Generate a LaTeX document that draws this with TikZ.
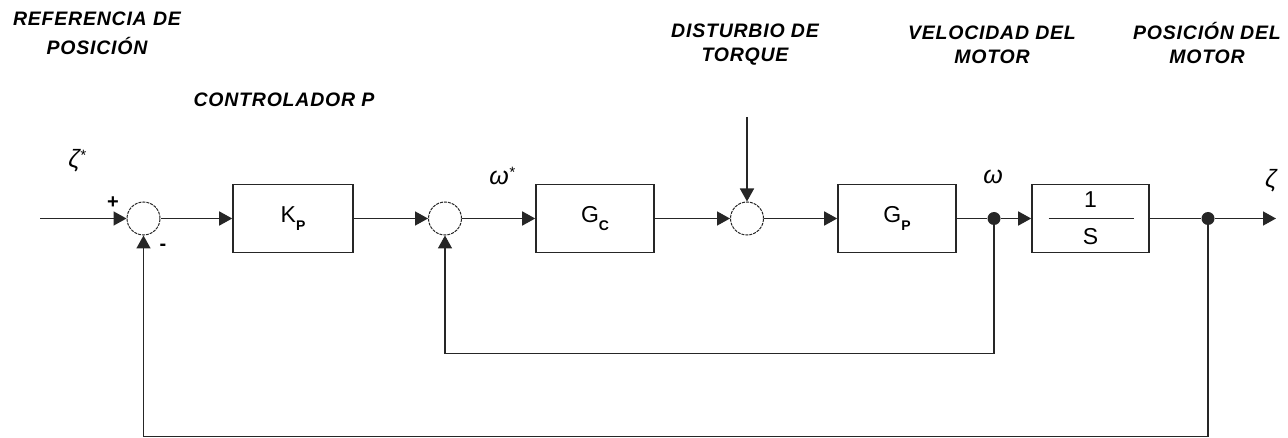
\documentclass[tikz,border=0pt]{standalone}
\usepackage{fontspec}
\setmainfont{Liberation Sans}
\usetikzlibrary{arrows.meta}
\newcommand{\lowidx}[1]{\raisebox{-8pt}{\fontsize{14}{14}\selectfont\bfseries #1}}
\begin{document}
\begin{tikzpicture}[x=1pt, y=-1pt, font=\fontsize{23}{26}\selectfont,
      >={Triangle[length=13pt,width=14pt]}, line width=1.6pt, draw=black!85,
      blk/.style={draw, minimum width=118pt, minimum height=68pt, inner sep=0pt},
      sm/.style={circle, draw, dash pattern=on 3pt off 1pt, line width=1pt, minimum size=33pt, inner sep=0pt},
      dt/.style={circle, fill=black!85, minimum size=13pt, inner sep=0pt},
      ttl/.style={font=\fontsize{19.5}{24}\selectfont\bfseries\itshape\addfontfeature{LetterSpace=4}, align=center},
      gr/.style={font=\fontsize{25}{25}\selectfont\itshape},
      sgn/.style={font=\fontsize{20}{20}\selectfont\bfseries}]
    \useasboundingbox (0,0) rectangle (1288,438);
    \node[sm] (s1) at (143.5,218.5) {};
    \node[blk, minimum width=120pt] (kp) at (293,218.5) {K\lowidx{P}};
    \node[sm] (s2) at (445,218.5) {};
    \node[blk] (gc) at (595,218.5) {G\lowidx{C}};
    \node[sm] (s3) at (747,218.5) {};
    \node[blk] (gp) at (897,218.5) {G\lowidx{P}};
    \node[dt] (d1) at (994,218.5) {};
    \node[blk, minimum width=117pt] (ig) at (1090.5,218.5) {};
    \node (num) at (1090.5,200) {1};
    \node (den) at (1090.5,237) {S};
    \node[dt] (d2) at (1208,218.5) {};
    \coordinate (in) at (40,218.5);
    \coordinate (out) at (1276,218.5);
    \coordinate (tq) at (747,117);
    \draw ([xshift=-42pt]ig.center) -- ([xshift=43pt]ig.center);
    \draw[->] (in) -- (s1);
    \draw[->] (s1) -- (kp);
    \draw[->] (kp) -- (s2);
    \draw[->] (s2) -- (gc);
    \draw[->] (gc) -- (s3);
    \draw[->] (s3) -- (gp);
    \draw (gp) -- (d1);
    \draw[->] (d1) -- (ig);
    \draw (ig) -- (d2);
    \draw[->] (d2) -- (out);
    \draw[->] (tq) -- (s3);
    \draw[->] (d1.center) -- ++(0,135) -| (s2);
    \draw[->] (d2.center) -- ++(0,218) -| (s1);
    % labels
    \node[ttl] (ref) at (97,33.5) {REFERENCIA DE\\[5pt]POSICIÓN};
    \node[ttl] (ctl) at (284,100) {CONTROLADOR P};
    \node[ttl] (dist) at (745,45) {DISTURBIO DE\\TORQUE};
    \node[ttl] (vel) at (992,44.5) {VELOCIDAD DEL\\MOTOR};
    \node[ttl] (pos) at (1207,43) {POSICIÓN DEL\\MOTOR};
    \node[gr] (zr) at (77,161) {ζ\raisebox{7pt}{\fontsize{15}{15}\selectfont *}};
    \node[gr] (wr) at (502,176) {ω\raisebox{7pt}{\fontsize{15}{15}\selectfont *}};
    \node[gr] (wl) at (993,177) {ω};
    \node[gr] (zl) at (1271,181) {ζ};
    \node[sgn] (pl) at (113,203) {+};
    \node[sgn] (mn) at (163,247) {-};
  \end{tikzpicture}
\end{document}
